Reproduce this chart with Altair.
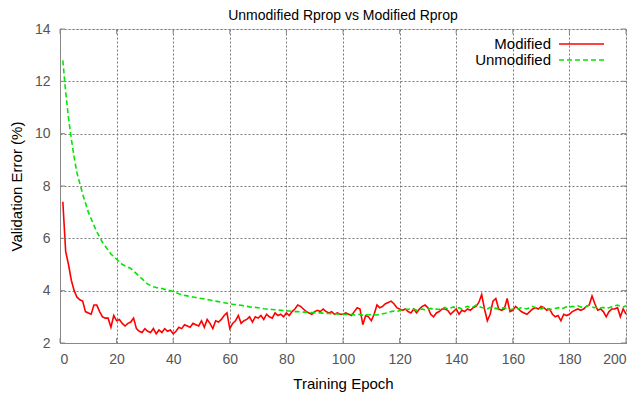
import altair as alt
import pandas as pd

# ---- data ----
epochs = list(range(1, 201))

modified = [
    7.4, 5.5, 5.0, 4.4, 4.0, 3.75, 3.65, 3.6, 3.2, 3.15,
    3.1, 3.45, 3.45, 3.2, 3.0, 2.95, 2.95, 2.6, 3.05, 2.85,
    2.9, 2.75, 2.65, 2.75, 2.8, 2.95, 2.55, 2.45, 2.4, 2.55,
    2.45, 2.4, 2.55, 2.35, 2.5, 2.4, 2.55, 2.45, 2.5, 2.35,
    2.45, 2.6, 2.55, 2.7, 2.65, 2.6, 2.75, 2.7, 2.65, 2.85,
    2.6, 2.9, 2.75, 2.55, 2.85, 2.8, 2.9, 3.05, 3.15, 2.55,
    2.75, 2.85, 3.05, 2.75, 2.85, 2.9, 3.0, 2.8, 3.0, 2.95,
    3.05, 2.9, 3.1, 3.0, 2.95, 3.15, 3.05, 3.1, 3.0, 3.15,
    3.05, 3.2, 3.3, 3.45, 3.4, 3.3, 3.2, 3.15, 3.1, 3.2,
    3.25, 3.2, 3.3, 3.2, 3.15, 3.2, 3.1, 3.15, 3.1, 3.1,
    3.15, 3.1, 3.05, 3.2, 3.35, 3.3, 2.7, 3.05, 3.0, 2.85,
    3.1, 3.45, 3.35, 3.4, 3.5, 3.55, 3.6, 3.5, 3.35, 3.3,
    3.25, 3.3, 3.2, 3.15, 3.3, 3.15, 3.3, 3.4, 3.45, 3.35,
    3.1, 3.0, 3.15, 3.2, 3.3, 3.3, 3.25, 3.1, 3.2, 3.3,
    3.1, 3.25, 3.2, 3.3, 3.25, 3.35, 3.4, 3.55, 3.85, 3.3,
    2.85, 3.1, 3.6, 3.7, 3.3, 3.25, 3.3, 3.7, 3.2, 3.25,
    3.4, 3.3, 3.2, 3.15, 3.1, 3.2, 3.3, 3.35, 3.3, 3.4,
    3.35, 3.25, 3.3, 3.1, 3.0, 3.05, 2.85, 3.1, 3.05, 3.1,
    3.2, 3.25, 3.3, 3.25, 3.3, 3.4, 3.45, 3.8, 3.5, 3.25,
    3.3, 3.2, 3.0, 3.2, 3.3, 3.3, 3.35, 3.0, 3.3, 3.1,
]

unmodified = [
    12.8, 11.6, 10.6, 9.8, 9.1, 8.5, 8.1, 7.7, 7.35, 7.0,
    6.75, 6.5, 6.25, 6.05, 5.85, 5.7, 5.55, 5.4, 5.3, 5.2,
    5.1, 5.0, 4.95, 4.9, 4.85, 4.75, 4.65, 4.55, 4.45, 4.35,
    4.25, 4.2, 4.15, 4.12, 4.1, 4.08, 4.05, 4.02, 4.0, 3.97,
    3.92, 3.88, 3.85, 3.82, 3.8, 3.78, 3.76, 3.74, 3.72, 3.7,
    3.68, 3.66, 3.64, 3.62, 3.6, 3.58, 3.56, 3.54, 3.52, 3.5,
    3.48, 3.47, 3.45, 3.44, 3.42, 3.4, 3.38, 3.37, 3.36, 3.35,
    3.33, 3.31, 3.3, 3.29, 3.28, 3.27, 3.26, 3.25, 3.24, 3.23,
    3.22, 3.21, 3.2, 3.2, 3.19, 3.18, 3.18, 3.17, 3.16, 3.16,
    3.15, 3.15, 3.14, 3.13, 3.13, 3.12, 3.12, 3.11, 3.1, 3.1,
    3.09, 3.08, 3.1, 3.07, 3.08, 3.1, 3.06, 3.08, 3.07, 3.09,
    3.08, 3.07, 3.1, 3.12, 3.14, 3.17, 3.2, 3.22, 3.2, 3.24,
    3.26, 3.3, 3.28, 3.32, 3.3, 3.25, 3.28, 3.3, 3.26, 3.29,
    3.32, 3.27, 3.3, 3.28, 3.33, 3.36, 3.3, 3.34, 3.38, 3.32,
    3.35, 3.3, 3.36, 3.4, 3.35, 3.38, 3.45, 3.4, 3.36, 3.34,
    3.3, 3.36, 3.3, 3.33, 3.28, 3.32, 3.35, 3.3, 3.27, 3.3,
    3.34, 3.3, 3.35, 3.32, 3.3, 3.36, 3.4, 3.35, 3.33, 3.3,
    3.35, 3.32, 3.28, 3.3, 3.32, 3.35, 3.3, 3.34, 3.38, 3.36,
    3.4, 3.38, 3.42, 3.38, 3.35, 3.4, 3.44, 3.38, 3.35, 3.38,
    3.34, 3.36, 3.32, 3.35, 3.38, 3.42, 3.45, 3.4, 3.38, 3.42,
]

x_ticks = [0, 20, 40, 60, 80, 100, 120, 140, 160, 180, 200]
y_ticks = [2, 4, 6, 8, 10, 12, 14]
series_names = ["Modified", "Unmodified"]
series_colors = ["#ff0000", "#00e600"]

W, H = 566, 314
FONT = "Liberation Sans"

df = pd.DataFrame({
    "epoch": epochs * 2,
    "value": modified + unmodified,
    "series": ["Modified"] * len(epochs) + ["Unmodified"] * len(epochs),
})

xscale = alt.Scale(domain=[0, 200], nice=False, zero=False)
yscale = alt.Scale(domain=[2, 14], nice=False, zero=False)

xaxis = alt.Axis(values=x_ticks, title="Training Epoch", grid=True,
                 gridDash=[2, 2], gridColor="#777777", gridOpacity=1,
                 domainColor="#888888", tickSize=0, labelPadding=9,
                 labelColor="#555555", labelFontSize=14, labelFont=FONT,
                 titleFont=FONT, titleFontSize=15, titleFontWeight="normal",
                 titleColor="#000000", titlePadding=10)
yaxis = alt.Axis(values=y_ticks, title="Validation Error (%)", grid=True,
                 gridDash=[2, 2], gridColor="#777777", gridOpacity=1,
                 domainColor="#888888", tickSize=0, labelPadding=10,
                 labelColor="#555555", labelFontSize=14, labelFont=FONT,
                 titleFont=FONT, titleFontSize=15, titleFontWeight="normal",
                 titleColor="#000000", titlePadding=10)

X_EPOCH = alt.X("epoch:Q", scale=xscale, axis=xaxis, title="Training Epoch")
Y_VALUE = alt.Y("value:Q", scale=yscale, axis=yaxis, title="Validation Error (%)")

base = alt.Chart(df)

red = base.transform_filter(alt.datum.series == "Modified").mark_line(
    color=series_colors[0], strokeWidth=1.6
).encode(x=X_EPOCH, y=Y_VALUE)

green = base.transform_filter(alt.datum.series == "Unmodified").mark_line(
    color=series_colors[1], strokeWidth=1.6, strokeDash=[5, 3]
).encode(x=X_EPOCH, y=Y_VALUE)

xt = pd.DataFrame({"t": x_ticks})
yt = pd.DataFrame({"t": y_ticks})
tick_color = "#888888"
XT = alt.X("t:Q", scale=xscale, axis=xaxis, title="Training Epoch")
YT = alt.Y("t:Q", scale=yscale, axis=yaxis, title="Validation Error (%)")
ticks_bottom = alt.Chart(xt).mark_rule(color=tick_color).encode(
    x=XT, y=alt.value(H - 5), y2=alt.value(H))
ticks_top = alt.Chart(xt).mark_rule(color=tick_color).encode(
    x=XT, y=alt.value(0), y2=alt.value(5))
ticks_left = alt.Chart(yt).mark_rule(color=tick_color).encode(
    y=YT, x=alt.value(0), x2=alt.value(5))
ticks_right = alt.Chart(yt).mark_rule(color=tick_color).encode(
    y=YT, x=alt.value(W - 5), x2=alt.value(W))

# legend (inside, top-right)
leg = pd.DataFrame({"name": series_names})
leg_text_mod = alt.Chart(leg).transform_filter(alt.datum.name == "Modified").mark_text(
    align="right", baseline="middle", font=FONT, fontSize=15, color="#000000"
).encode(text="name:N", x=alt.value(491), y=alt.value(15))
leg_text_unmod = alt.Chart(leg).transform_filter(alt.datum.name == "Unmodified").mark_text(
    align="right", baseline="middle", font=FONT, fontSize=15, color="#000000"
).encode(text="name:N", x=alt.value(491), y=alt.value(31))
leg_red = alt.Chart(leg).transform_filter(alt.datum.name == "Modified").mark_rule(
    color=series_colors[0], strokeWidth=1.6
).encode(x=alt.value(499), x2=alt.value(544), y=alt.value(15))
leg_green = alt.Chart(leg).transform_filter(alt.datum.name == "Unmodified").mark_rule(
    color=series_colors[1], strokeWidth=1.6, strokeDash=[5, 3]
).encode(x=alt.value(499), x2=alt.value(544), y=alt.value(31))

chart = alt.layer(
    red, green, ticks_bottom, ticks_top, ticks_left, ticks_right,
    leg_text_mod, leg_text_unmod, leg_red, leg_green,
).properties(
    width=W, height=H,
    title=alt.TitleParams("Unmodified Rprop vs Modified Rprop", font=FONT,
                          fontSize=14, fontWeight="normal", color="#000000",
                          offset=-1),
    autosize=alt.AutoSizeParams(type="none"),
    padding={"left": 52, "top": 21, "right": 4, "bottom": 50},
).configure_view(stroke=None).configure(background="white")

chart.save("out.html", embed_options={"renderer": "svg", "actions": False})
